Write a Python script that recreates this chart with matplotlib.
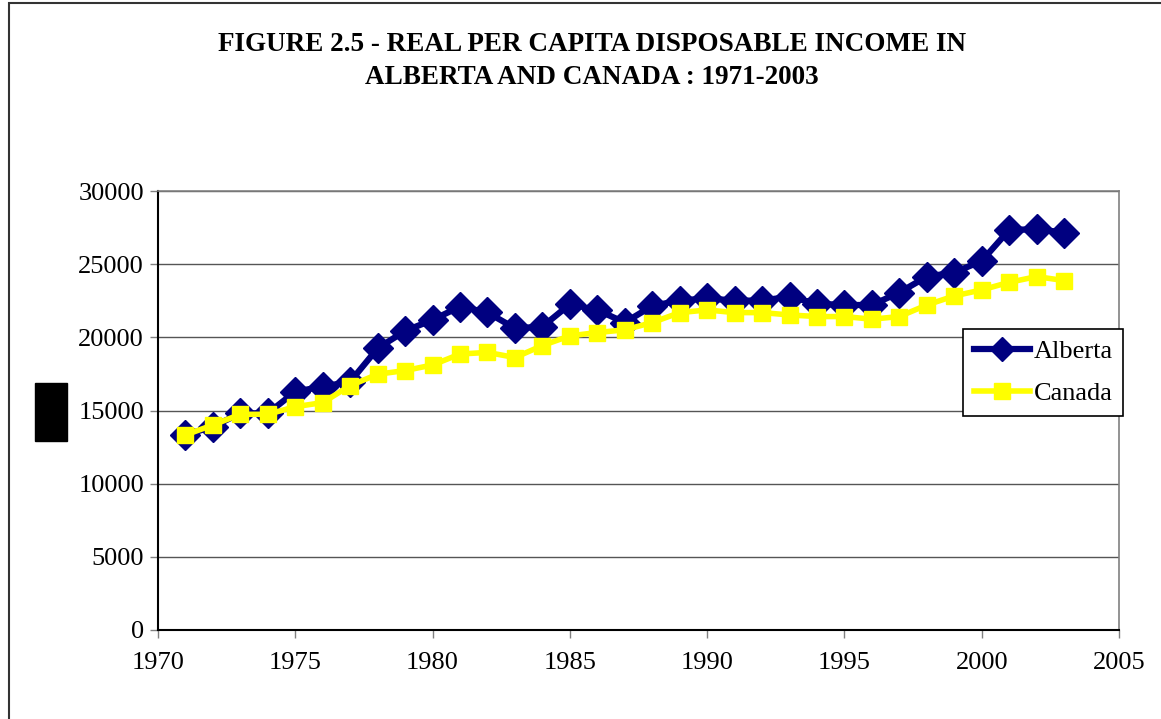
import matplotlib.pyplot as plt
from matplotlib.patches import Rectangle
from matplotlib.lines import Line2D

plt.rcParams['font.family'] = ['Liberation Serif', 'DejaVu Serif']

years = list(range(1971, 2004))
alberta = [13330, 13900, 14810, 14810, 16290, 16630, 16970, 19250, 20440, 21190,
           22100, 21700, 20620, 20730, 22260, 21870, 21010, 22150, 22510, 22670,
           22510, 22510, 22780, 22300, 22210, 22210, 23060, 24150, 24430, 25220,
           27340, 27390, 27160]
canada = [13330, 14010, 14740, 14740, 15260, 15540, 16700, 17480, 17730, 18110,
          18860, 18970, 18620, 19440, 20100, 20330, 20510, 21010, 21690, 21870,
          21690, 21690, 21530, 21420, 21420, 21240, 21420, 22210, 22830, 23240,
          23760, 24150, 23880]
xticks = [1970, 1975, 1980, 1985, 1990, 1995, 2000, 2005]
yticks = [0, 5000, 10000, 15000, 20000, 25000, 30000]
title = 'FIGURE 2.5 - REAL PER CAPITA DISPOSABLE INCOME IN\nALBERTA AND CANADA : 1971-2003'

W, H = 1161, 719
fig = plt.figure(figsize=(W / 100, H / 100), dpi=100)
ax = fig.add_axes([158 / W, 1 - 630 / H, (1119 - 158) / W, (630 - 191) / H])

ax.plot(years, canada, color='#FFFF00', lw=4, marker='s', ms=12,
        mec='#FFFF00', mfc='#FFFF00', zorder=3)
ax.plot(years, alberta, color='#000080', lw=4.5, marker='D', ms=15,
        mec='#000080', mfc='#000080', zorder=2)

ax.set_xlim(1970, 2005)
ax.set_ylim(0, 30000)
ax.set_xticks(xticks)
ax.set_yticks(yticks)
ax.tick_params(labelsize=19, length=6, width=1, direction='out', color='#808080')
ax.tick_params(axis='x', pad=10)
ax.tick_params(axis='y', pad=4)
ax.yaxis.grid(True, color='#555555', lw=1)
ax.set_axisbelow(True)
for s in ['left', 'bottom']:
    ax.spines[s].set_color('black')
    ax.spines[s].set_linewidth(1.5)
for s in ['top', 'right']:
    ax.spines[s].set_color('#808080')
    ax.spines[s].set_linewidth(1.2)

handles = [Line2D([], [], color='#000080', lw=4.5, marker='D', ms=12),
           Line2D([], [], color='#FFFF00', lw=4, marker='s', ms=11)]
leg = fig.legend(handles, ['Alberta', 'Canada'], loc='upper left',
                 bbox_to_anchor=(963 / W, 1 - 329 / H), fontsize=19,
                 frameon=True, fancybox=False, framealpha=1, edgecolor='black',
                 handlelength=2.15, handletextpad=0.12, borderpad=0.4,
                 labelspacing=0.7, borderaxespad=0)
leg.get_frame().set_linewidth(1.2)

fig.text(592 / W, 1 - 61 / H, title, ha='center', va='center', fontsize=19.5,
         fontweight='bold', linespacing=1.45)

# redacted y label block
fig.patches.append(Rectangle((35 / W, 1 - 441 / H), 32 / W, 58 / H,
                             transform=fig.transFigure, color='black'))
# chart frame (top and left edges visible)
fig.patches.append(Rectangle((9 / W, -0.1), 1.2, 1.1 - 3 / H,
                             transform=fig.transFigure, fill=False,
                             edgecolor='#333333', lw=1.5))

fig.savefig('out.png', dpi=100)
